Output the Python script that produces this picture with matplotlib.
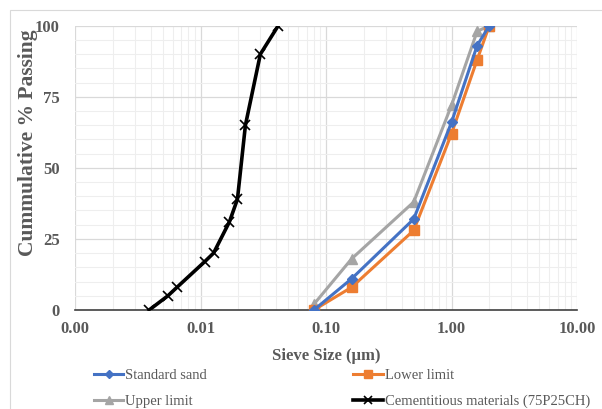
import matplotlib
matplotlib.use("Agg")
import matplotlib.pyplot as plt
from matplotlib.ticker import FixedLocator, LogLocator, MultipleLocator, NullFormatter

# Data
sand_sizes = [0.08, 0.16, 0.5, 1.0, 1.6, 2.0]
standard_sand = [0, 11, 32, 66, 93, 100]
lower_limit = [0, 8, 28, 62, 88, 100]
upper_limit = [2, 18, 38, 72, 98, 100]

cem_sizes = [0.0039, 0.0055, 0.0065, 0.0108, 0.0127, 0.017, 0.0197, 0.0228, 0.030, 0.0416]
cementitious = [0, 5, 8, 17, 20, 31, 39, 65, 90, 100]

x_ticks = [0.001, 0.01, 0.1, 1.0, 10.0]
x_tick_labels = ["0.00", "0.01", "0.10", "1.00", "10.00"]
y_ticks = [0, 25, 50, 75, 100]

plt.rcParams['font.family'] = ['Liberation Serif', 'DejaVu Serif']
grey = '#595959'

fig = plt.figure(figsize=(6.02, 4.09), dpi=100)
# outer chart frame
fig.patches.append(plt.Rectangle((10/602, -0.01), 600/602, 1 - 10/409 + 0.01,
                                 transform=fig.transFigure, fill=False,
                                 edgecolor='#d9d9d9', linewidth=0.8))
ax = fig.add_axes([75/602, 1 - 310/409, (577 - 75)/602, (310 - 25.7)/409])

h_std, = ax.plot(sand_sizes, standard_sand, color='#4472C4', lw=2.2, marker='D', ms=5,
                 label='Standard sand', zorder=4)
h_low, = ax.plot(sand_sizes, lower_limit, color='#ED7D31', lw=2.2, marker='s', ms=7,
                 label='Lower limit', zorder=3)
h_up, = ax.plot(sand_sizes, upper_limit, color='#A5A5A5', lw=2.2, marker='^', ms=7,
                label='Upper limit', zorder=2)
h_cem, = ax.plot(cem_sizes, cementitious, color='black', lw=2.6, marker='x', ms=7, mew=1.2,
                 label='Cementitious materials (75P25CH)', zorder=5)

ax.set_xscale('log')
ax.set_xlim(0.001, 10)
ax.set_ylim(0, 100)
ax.xaxis.set_major_locator(FixedLocator(x_ticks))
ax.set_xticklabels(x_tick_labels)
ax.xaxis.set_minor_locator(LogLocator(base=10, subs=range(2, 10)))
ax.xaxis.set_minor_formatter(NullFormatter())
ax.set_yticks(y_ticks)
ax.yaxis.set_minor_locator(MultipleLocator(5))

ax.grid(which='major', color='#d9d9d9', lw=0.9)
ax.grid(which='minor', color='#eeeeee', lw=0.8)
ax.set_axisbelow(True)

for s in ['top', 'right', 'left']:
    ax.spines[s].set_visible(False)
ax.spines['bottom'].set_color('#404040')
ax.spines['bottom'].set_linewidth(1.2)
ax.tick_params(which='both', length=0)
ax.tick_params(axis='both', labelsize=12, labelcolor=grey)
ax.tick_params(axis='y', pad=11)
ax.tick_params(axis='x', pad=8)
for lab in ax.get_xticklabels() + ax.get_yticklabels():
    lab.set_fontweight('bold')

ax.set_xlabel('Sieve Size (µm)', fontsize=12, fontweight='bold', color=grey, labelpad=8)
ax.set_ylabel('Cummulative % Passing', fontsize=15.5, fontweight='bold', color=grey)
ax.yaxis.set_label_coords((38 - 75) / 502, (310 - 143) / 284.3)

leg = fig.legend([h_std, h_up, h_low, h_cem],
                 ['Standard sand', 'Upper limit', 'Lower limit', 'Cementitious materials (75P25CH)'],
                 loc='upper left', bbox_to_anchor=(94/602, 1 - 369/409), ncol=2,
                 frameon=False, fontsize=10.5, handlelength=2.0, handletextpad=0.15,
                 columnspacing=10.03, labelspacing=0.85, borderaxespad=0, borderpad=0,
                 markerscale=0.85)
for t in leg.get_texts():
    t.set_color(grey)

fig.savefig('out.png', dpi=100)
